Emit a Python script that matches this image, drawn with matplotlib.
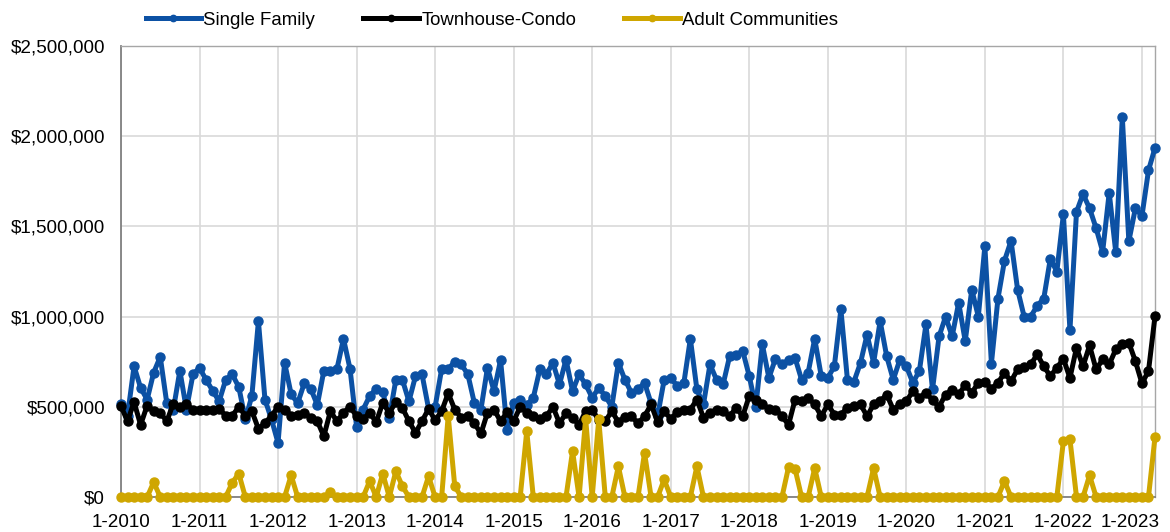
import matplotlib
matplotlib.use("Agg")
import matplotlib.pyplot as plt
import matplotlib.transforms as mtransforms
from matplotlib.ticker import FuncFormatter, MultipleLocator
import numpy as np

plt.rcParams['font.family'] = ['Liberation Sans', 'DejaVu Sans']

# monthly median prices in $ thousands, 1-2010 .. 3-2023
single_family = [
    513, 450, 725, 605, 540, 690, 777, 520, 485, 700, 485, 680,       # 2010
    716, 650, 590, 530, 650, 680, 610, 430, 560, 975, 540, 430,       # 2011
    300, 745, 570, 520, 630, 600, 510, 700, 700, 710, 877, 710,       # 2012
    390, 485, 560, 600, 580, 440, 650, 650, 530, 670, 680, 490,       # 2013
    500, 710, 710, 750, 735, 680, 520, 485, 716, 587, 759, 374,       # 2014
    520, 537, 510, 550, 707, 680, 744, 624, 762, 587, 680, 624,       # 2015
    550, 605, 560, 500, 744, 650, 578, 596, 633, 520, 450, 650,       # 2016
    660, 615, 630, 877, 596, 513, 735, 650, 624, 780, 785, 810,       # 2017
    670, 500, 846, 660, 766, 735, 760, 770, 650, 690, 877, 670,       # 2018
    660, 725, 1040, 650, 640, 744, 900, 744, 975, 780, 650, 760,      # 2019
    725, 633, 700, 957, 596, 890, 1000, 890, 1077, 864, 1150, 1000,   # 2020
    1390, 740, 1100, 1310, 1420, 1150, 1000, 1000, 1060, 1100, 1320, 1250,  # 2021
    1567, 925, 1580, 1680, 1600, 1490, 1360, 1687, 1357, 2108, 1418, 1600,  # 2022
    1557, 1810, 1936,                                                  # 2023
]

townhouse_condo = [
    504, 420, 526, 400, 507, 476, 467, 420, 518, 500, 513, 485,
    485, 485, 485, 490, 450, 450, 500, 450, 476, 378, 410, 450,
    500, 485, 450, 457, 467, 440, 420, 337, 476, 420, 467, 500,
    448, 430, 467, 415, 522, 467, 526, 494, 420, 356, 420, 489,
    425, 476, 575, 485, 440, 448, 408, 352, 467, 485, 420, 470,
    420, 500, 467, 448, 430, 448, 500, 410, 463, 440, 400, 476,
    485, 425, 420, 476, 415, 445, 448, 408, 448, 513, 415, 476,
    433, 470, 485, 485, 540, 440, 467, 485, 476, 448, 494, 448,
    560, 540, 513, 489, 485, 448, 400, 540, 530, 550, 513, 448,
    513, 457, 457, 494, 504, 513, 448, 513, 530, 568, 485, 513,
    530, 587, 550, 578, 537, 500, 568, 592, 570, 620, 578, 633,
    637, 600, 633, 688, 642, 707, 720, 735, 790, 725, 670, 716,
    766, 660, 827, 725, 840, 707, 763, 735, 818, 846, 855, 753,
    630, 698, 1003,
]

adult_communities = [
    0, 0, 0, 0, 0, 82, 0, 0, 0, 0, 0, 0,
    0, 0, 0, 0, 0, 79, 130, 0, 0, 0, 0, 0,
    0, 0, 120, 0, 0, 0, 0, 0, 25, 0, 0, 0,
    0, 0, 88, 0, 130, 0, 143, 60, 0, 0, 0, 115,
    0, 0, 450, 60, 0, 0, 0, 0, 0, 0, 0, 0,
    0, 0, 365, 0, 0, 0, 0, 0, 0, 254, 0, 434,
    0, 430, 0, 0, 170, 0, 0, 0, 245, 0, 0, 97,
    0, 0, 0, 0, 170, 0, 0, 0, 0, 0, 0, 0,
    0, 0, 0, 0, 0, 0, 165, 155, 0, 0, 160, 0,
    0, 0, 0, 0, 0, 0, 0, 160, 0, 0, 0, 0,
    0, 0, 0, 0, 0, 0, 0, 0, 0, 0, 0, 0,
    0, 0, 0, 88, 0, 0, 0, 0, 0, 0, 0, 0,
    310, 320, 0, 0, 120, 0, 0, 0, 0, 0, 0, 0,
    0, 0, 333,
]

tick_labels = ["1-2010", "1-2011", "1-2012", "1-2013", "1-2014", "1-2015", "1-2016",
               "1-2017", "1-2018", "1-2019", "1-2020", "1-2021", "1-2022", "1-2023"]

series = [
    ("Single Family", single_family, "#0C51A4"),
    ("Townhouse-Condo", townhouse_condo, "#000000"),
    ("Adult Communities", adult_communities, "#CFA600"),
]

fig = plt.figure(figsize=(11.7, 5.32), dpi=100)
ax = fig.add_axes([0.1034, 0.0658, 0.8838, 0.8477])

for name, vals, col in series:
    x = np.arange(len(vals))
    ax.plot(x, vals, color=col, lw=3.6, marker='o', ms=6.5, label=name,
            solid_joinstyle='round', zorder=3, clip_on=False)

ax.set_xlim(0, len(single_family) - 1)
ax.set_ylim(0, 2500)
ax.set_xticks(np.arange(len(tick_labels)) * 12)
ax.set_xticklabels(tick_labels)
ax.yaxis.set_major_locator(MultipleLocator(500))
ax.yaxis.set_major_formatter(FuncFormatter(lambda v, p: "${:,.0f}".format(v * 1000)))

ax.grid(True, color="#D9D9D9", lw=1.2, zorder=0)
for s in ["top", "right"]:
    ax.spines[s].set_color("#A6A6A6")
    ax.spines[s].set_linewidth(1.0)
for s in ["left", "bottom"]:
    ax.spines[s].set_color("#808080")
    ax.spines[s].set_linewidth(1.3)
ax.tick_params(axis='both', labelsize=13.6, length=0)
ax.tick_params(axis='x', pad=12.5)
ax.tick_params(axis='y', pad=11.5)

# last date label sits a bit left so it stays inside the picture
last = ax.get_xticklabels()[-1]
last.set_transform(last.get_transform() +
                   mtransforms.ScaledTranslation(-12 / 100, 0, fig.dpi_scale_trans))

fig.legend(loc='upper left', bbox_to_anchor=(0.118, 0.992), ncol=3, frameon=False,
           fontsize=13.4, handlelength=3.0, handletextpad=0.1, columnspacing=2.6,
           borderaxespad=0, markerscale=0.7)

fig.savefig("out.png", dpi=100)
